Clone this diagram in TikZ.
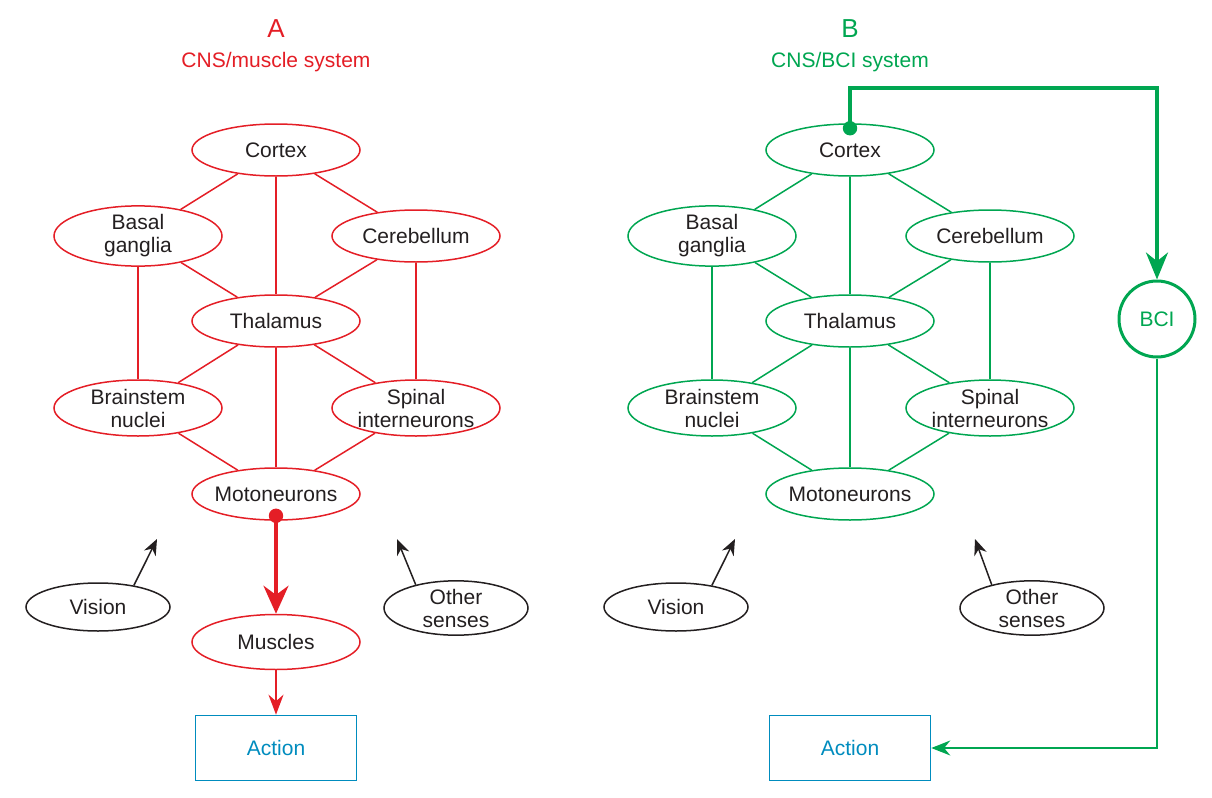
\documentclass[tikz,border=0pt]{standalone}
\usepackage{fontspec}
\setmainfont{Liberation Sans}
\usetikzlibrary{shapes.geometric,arrows.meta}
\definecolor{myred}{RGB}{228,30,38}
\definecolor{mygreen}{RGB}{0,166,81}
\definecolor{myblue}{RGB}{0,140,190}
\definecolor{txt}{RGB}{35,31,32}
\begin{document}
\begin{tikzpicture}[x=0.5pt,y=-0.5pt,
  lab/.style={font=\fontsize{10.5}{11.5}\selectfont, align=center, text=txt},
  el/.style={lab, ellipse, draw, line width=0.75pt, minimum width=84pt, minimum height=26pt, inner sep=0pt},
  elt/.style={el, minimum height=28pt},
  narrow/.style={inner xsep=-5pt},
  sense/.style={el, draw=txt, minimum width=72pt, minimum height=24pt},
  actbox/.style={draw=myblue, line width=0.8pt, minimum width=80.5pt, minimum height=32.5pt, inner sep=0pt, text=myblue, font=\fontsize{10.5}{11.5}\selectfont},
  redl/.style={myred, line width=0.75pt},
  greenl/.style={mygreen, line width=0.75pt},
  sensearr/.style={txt, line width=0.75pt, -{Stealth[length=8pt,width=6.5pt]}},
  title/.style={font=\fontsize{13}{15}\selectfont},
  sub/.style={font=\fontsize{10.5}{12}\selectfont}
]
\useasboundingbox (0,0) rectangle (1212,798);

% ---------- Panel A ----------
\node[title, text=myred] (tA) at (276,29) {A};
\node[sub, text=myred] (sA) at (276,62) {CNS/muscle system};
\begin{scope}[every node/.append style={draw=myred}]
\node[el] (cxA) at (276,150) {Cortex};
\node[elt] (bgA) at (138,236) {Basal\\ganglia};
\node[el] (cbA) at (416,236) {Cerebellum};
\node[el] (thA) at (276,321) {Thalamus};
\node[elt] (bsA) at (138,408) {Brainstem\\nuclei};
\node[elt] (spA) at (416,408) {Spinal\\interneurons};
\node[el, narrow] (moA) at (276,494) {Motoneurons};
\node[el, minimum height=27.5pt] (muA) at (276,642) {Muscles};
\end{scope}
\node[actbox] (acA) at (276,748) {Action};
\node[sense] (viA) at (98,607) {Vision};
\node[sense] (osA) at (456,608) {Other\\senses};
\coordinate (vtA) at (157,539);
\coordinate (otA) at (397,539);

\draw[redl] (cxA) -- (bgA);
\draw[redl] (cxA) -- (cbA);
\draw[redl] (cxA) -- (thA);
\draw[redl] (bgA) -- (thA);
\draw[redl] (cbA) -- (thA);
\draw[redl] (bgA) -- (bsA);
\draw[redl] (cbA) -- (spA);
\draw[redl] (thA) -- (bsA);
\draw[redl] (thA) -- (spA);
\draw[redl] (thA) -- (moA);
\draw[redl] (bsA) -- (moA);
\draw[redl] (spA) -- (moA);
\draw[myred, line width=1.8pt, -{Stealth[length=14pt,width=12.5pt]}] ([yshift=2pt]moA.south) -- (muA.north);
\fill[myred] ([yshift=2.5pt]moA.south) circle (3.6pt);
\draw[myred, line width=0.9pt, -{Stealth[length=10pt,width=7.5pt]}] (muA.south) -- (acA.north);
\draw[sensearr] (viA.31) -- (vtA);
\draw[sensearr] (osA.150) -- (otA);

% ---------- Panel B ----------
\node[title, text=mygreen] (tB) at (850,29) {B};
\node[sub, text=mygreen] (sB) at (850,62) {CNS/BCI system};
\begin{scope}[every node/.append style={draw=mygreen}]
\node[el] (cxB) at (850,150) {Cortex};
\node[elt] (bgB) at (712,236) {Basal\\ganglia};
\node[el] (cbB) at (990,236) {Cerebellum};
\node[el] (thB) at (850,321) {Thalamus};
\node[elt] (bsB) at (712,408) {Brainstem\\nuclei};
\node[elt] (spB) at (990,408) {Spinal\\interneurons};
\node[el, narrow] (moB) at (850,494) {Motoneurons};
\end{scope}
\node[lab, circle, draw=mygreen, line width=1.5pt, minimum size=38pt, inner sep=0pt, text=mygreen] (bci) at (1157,319) {BCI};
\node[actbox] (acB) at (850,748) {Action};
\node[sense] (viB) at (676,607) {Vision};
\node[sense] (osB) at (1032,608) {Other\\senses};
\coordinate (vtB) at (735,539);
\coordinate (otB) at (975,539);
\coordinate (topB) at (1157,88);

\draw[greenl] (cxB) -- (bgB);
\draw[greenl] (cxB) -- (cbB);
\draw[greenl] (cxB) -- (thB);
\draw[greenl] (bgB) -- (thB);
\draw[greenl] (cbB) -- (thB);
\draw[greenl] (bgB) -- (bsB);
\draw[greenl] (cbB) -- (spB);
\draw[greenl] (thB) -- (bsB);
\draw[greenl] (thB) -- (spB);
\draw[greenl] (thB) -- (moB);
\draw[greenl] (bsB) -- (moB);
\draw[greenl] (spB) -- (moB);
\draw[mygreen, line width=1.8pt, -{Stealth[length=13.5pt,width=11pt]}] ([yshift=-2pt]cxB.north) |- (topB) -- (bci.north);
\fill[mygreen] ([yshift=-2.5pt]cxB.north) circle (3.6pt);
\draw[mygreen, line width=0.9pt, -{Stealth[length=9.5pt,width=7.5pt]}] (bci.south) |- (acB.east);
\draw[sensearr] (viB.31) -- (vtB);
\draw[sensearr] (osB.150) -- (otB);
\end{tikzpicture}
\end{document}
